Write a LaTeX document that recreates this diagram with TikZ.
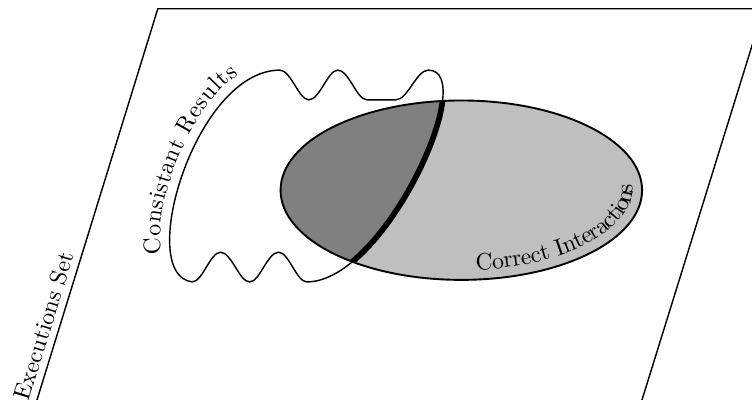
\documentclass[tikz,border=0pt]{standalone}
\usepackage{amsmath}
\usepackage{tikz}
\usetikzlibrary{decorations.text}

\def\resultshape{(2.85,1.75) .. controls (2.00,1.85) and (2.89,4.89) .. (4.15,4.89)
  cos (4.37,4.67) sin (4.58,4.45) cos (4.80,4.67) sin (5.01,4.89)
  cos (5.23,4.67) sin (5.44,4.45) -- (5.87,4.45) cos (6.11,4.67) sin (6.35,4.89)
  .. controls (7.12,4.89) and (5.71,1.75) .. (4.55,1.75)
  cos (4.34,1.97) sin (4.13,2.19) cos (3.91,1.97) sin (3.70,1.75)
  cos (3.49,1.97) sin (3.27,2.19) cos (3.06,1.97) sin (2.85,1.75) -- cycle}
\def\interactions{(6.84,3.11) ellipse [x radius=2.68, y radius=1.33]}

\begin{document}
\begin{tikzpicture}[outline/.style = {draw, semithick}, bent label/.style = {decorate, decoration={text along path, text={#1}, raise=3pt}}]
                \useasboundingbox (0,0) rectangle (11.15,5.93);

                % executions set
                \draw[outline] (0.53,-0.06) -- (2.34,5.80) -- (11.32,5.80) -- (9.50,-0.06) -- cycle;
                \path[bent label={Executions Set}] (0.53,-0.06) -- (2.34,5.80);

                % correct interactions, overlap with consistant results
                \fill[black!25] \interactions;
                \begin{scope}
                    \clip \interactions;
                    \fill[black!50] \resultshape;
                    \draw[line width=2.4pt] (6.35,4.89) .. controls (7.12,4.89) and (5.71,1.75) .. (4.55,1.75);
                \end{scope}
                \draw[outline] \resultshape;
                \draw[outline, thick] \interactions;

                \path[bent label={Consistant Results}, decoration={text align=center, raise=4pt}] (2.85,1.75) .. controls (2.00,1.85) and (2.89,4.89) .. (4.15,4.89);
                \path[bent label={Correct Interactions}, decoration={raise=4pt}] (7.07,1.785) arc [start angle=-85, end angle=12, x radius=2.68, y radius=1.33];
            \end{tikzpicture}
\end{document}
